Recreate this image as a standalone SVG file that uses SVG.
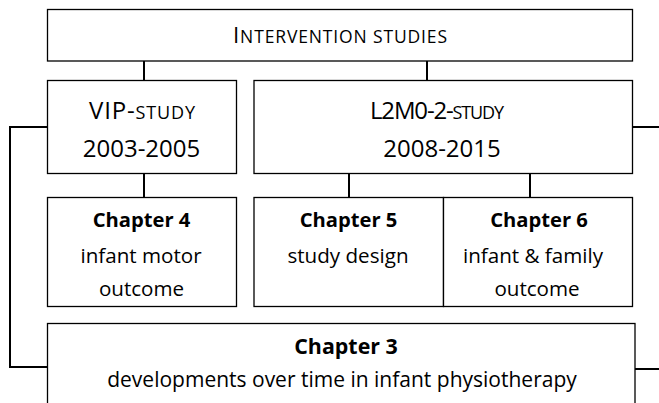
<svg xmlns="http://www.w3.org/2000/svg" width="659" height="403" viewBox="0 0 659 403">
<style>
.box{fill:#fff;stroke:#000;stroke-width:1.3}
.con{fill:none;stroke:#000;stroke-width:2}
text{font-family:"Open Sans","Liberation Sans",sans-serif;fill:#000;text-anchor:middle}
.big{font-size:24px}
.sc{font-size:18px}
.ch{font-size:20.6px}
.b{font-weight:bold;font-size:20.2px}
.c3{font-size:21px}
.c3b{font-weight:bold;font-size:21.4px}
</style>
<rect width="659" height="403" fill="#fff"/>
<g id="connectors">
<path class="con" d="M144 61V80.5M427 61V80.5M144 173.5V197.5M349 173.5V197.5M530 173.5V197.5"/>
<path class="con" d="M47.5 127H10V367H47.5"/>
<path class="con" d="M632.5 127H659M635 369H659"/>
</g>
<g id="intervention">
<rect class="box" x="47.5" y="9.5" width="585" height="51.5"/>
<text x="340" y="43.3" font-size="22.4" textLength="214">I<tspan font-size="17.5">NTERVENTION STUDIES</tspan></text>
</g>
<g id="vip">
<rect class="box" x="47.5" y="80.5" width="189" height="93"/>
<text class="big" x="142" y="119" textLength="106">VIP-<tspan class="sc">STUDY</tspan></text>
<text class="big" x="141.5" y="156.5">2003-2005</text>
</g>
<g id="l2m0">
<rect class="box" x="254" y="80.5" width="378.5" height="93"/>
<text class="big" x="437" y="119" textLength="134">L2M0-2-<tspan class="sc">STUDY</tspan></text>
<text class="big" x="442" y="156.5">2008-2015</text>
</g>
<g id="ch4">
<rect class="box" x="47.5" y="197.5" width="189" height="109"/>
<text class="b" x="141.5" y="227">Chapter 4</text>
<text class="ch" x="141" y="262.5">infant motor</text>
<text class="ch" x="141.5" y="296">outcome</text>
</g>
<g id="ch5">
<rect class="box" x="254" y="197.5" width="189.5" height="109"/>
<text class="b" x="348.5" y="227">Chapter 5</text>
<text class="ch" x="348" y="262.5">study design</text>
</g>
<g id="ch6">
<rect class="box" x="443.5" y="197.5" width="189" height="109"/>
<text class="b" x="539" y="227">Chapter 6</text>
<text class="ch" x="533" y="262.5">infant &amp; family</text>
<text class="ch" x="537" y="296">outcome</text>
</g>
<g id="ch3">
<rect class="box" x="47.5" y="323.5" width="587.5" height="100"/>
<text class="c3b" x="346" y="354">Chapter 3</text>
<text class="c3" x="342" y="386.7">developments over time in infant physiotherapy</text>
</g>
</svg>
